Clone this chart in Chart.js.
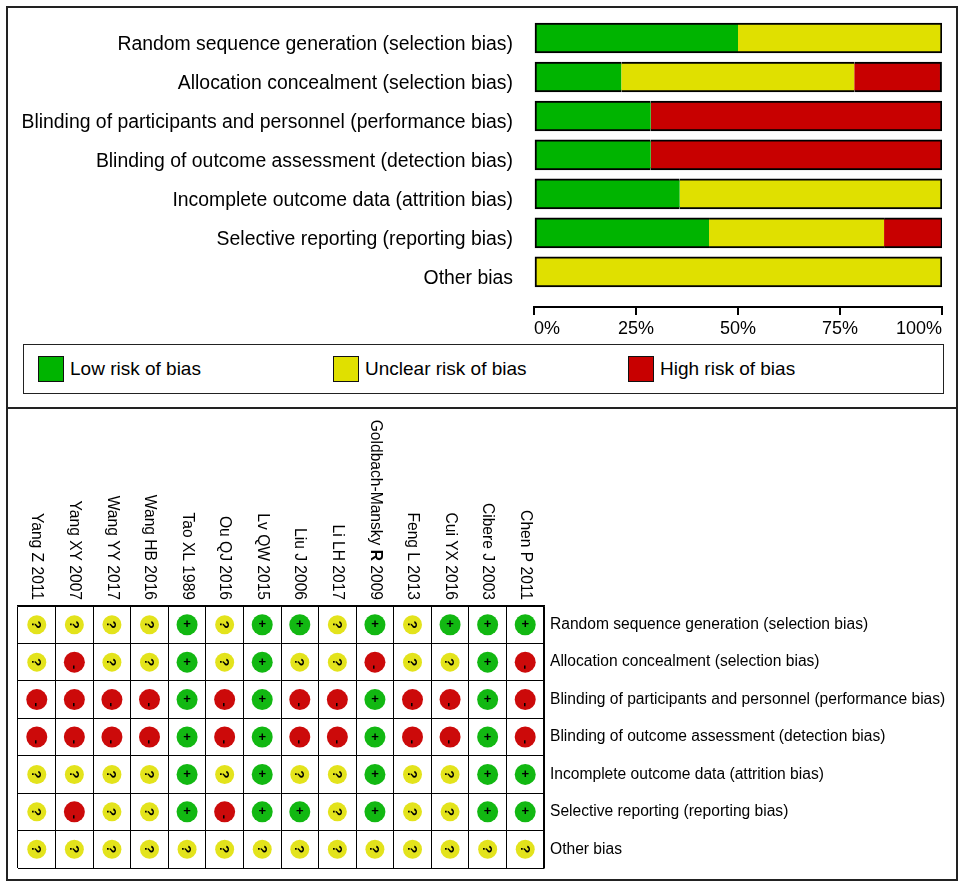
<!DOCTYPE html>
<html>
<head>
<meta charset="utf-8">
<script src="https://cdn.jsdelivr.net/npm/chart.js@4.4.1/dist/chart.umd.min.js"></script>
<style>
html,body{margin:0;padding:0;background:#fff;}
body{width:964px;height:887px;position:relative;overflow:hidden;font-family:"Liberation Sans",Arial,sans-serif;}
.frame{position:absolute;border:2px solid #222;box-sizing:border-box;}
#f1{left:6px;top:6px;width:952px;height:403px;}
#f2{left:6px;top:407px;width:952px;height:474px;}
#c1wrap{position:absolute;left:0;top:0;width:964px;height:340px;}
#c2wrap{position:absolute;left:0;top:410px;width:964px;height:470px;}
#legend{position:absolute;left:23px;top:344px;width:921px;height:50px;border:1.5px solid #222;box-sizing:border-box;}
.item{position:absolute;top:0;height:100%;display:flex;align-items:center;font-size:19px;color:#000;white-space:nowrap;}
.sw{width:26px;height:26px;border:1.5px solid #111;box-sizing:border-box;margin-right:6px;}
</style>
</head>
<body>
<div class="frame" id="f1"></div>
<div class="frame" id="f2"></div>
<div id="c1wrap"><canvas id="c1"></canvas></div>
<div id="legend"></div>
<div id="c2wrap"><canvas id="c2"></canvas></div>
<script>
// ---------- data ----------
const domains = [
  'Random sequence generation (selection bias)',
  'Allocation concealment (selection bias)',
  'Blinding of participants and personnel (performance bias)',
  'Blinding of outcome assessment (detection bias)',
  'Incomplete outcome data (attrition bias)',
  'Selective reporting (reporting bias)',
  'Other bias'
];
const seriesNames = ['Low risk of bias', 'Unclear risk of bias', 'High risk of bias'];
const lowRisk     = [50, 21.4, 28.6, 28.6, 35.7, 42.9, 0];
const unclearRisk = [50, 57.1, 0, 0, 64.3, 42.9, 100];
const highRisk    = [0, 21.4, 71.4, 71.4, 0, 14.3, 0];
const percentTicks = [0, 25, 50, 75, 100];

const studies = [
  'Yang Z 2011', 'Yang XY 2007', 'Wang YY 2017', 'Wang HB 2016', 'Tao XL 1989',
  'Ou QJ 2016', 'Lv QW 2015', 'Liu J 2006', 'Li LH 2017', 'Goldbach-Mansky R 2009',
  'Feng L 2013', 'Cui YX 2016', 'Cibere J 2003', 'Chen P 2011'
];
const randomSequence  = ['?','?','?','?','+','?','+','+','?','+','?','+','+','+'];
const allocation      = ['?','-','?','?','+','?','+','?','?','-','?','?','+','-'];
const blindingPeople  = ['-','-','-','-','+','-','+','-','-','+','-','-','+','-'];
const blindingOutcome = ['-','-','-','-','+','-','+','-','-','+','-','-','+','-'];
const incompleteData  = ['?','?','?','?','+','?','+','?','?','+','?','?','+','+'];
const selectiveReport = ['?','-','?','?','+','-','+','+','?','+','?','?','+','+'];
const otherBias       = ['?','?','?','?','?','?','?','?','?','?','?','?','?','?'];
const judgementKeys = ['+', '?', '-'];
const boldStudy = 'Goldbach-Mansky R 2009';
const boldPart = 'R';

// ---------- styles ----------
const FONT = '"Liberation Sans", Arial, sans-serif';
Chart.defaults.font.family = FONT;
Chart.defaults.color = '#000';
const barColors = ['#00b400', '#e0e000', '#c80000'];
const dotColors = ['#12b812', '#e3e31c', '#cc0a0a'];

// ---------- top: risk of bias graph ----------
const seriesData = [lowRisk, unclearRisk, highRisk];
function segmentBorder(ctx) {
  const i = ctx.dataIndex, d = ctx.datasetIndex;
  const vals = seriesData.map(s => s[i]);
  const before = vals.slice(0, d).some(v => v > 0);
  const after = vals.slice(d + 1).some(v => v > 0);
  return {top: 2, bottom: 2, left: before ? 0 : 2, right: after ? 0 : 2};
}
const chart1 = new Chart(document.getElementById('c1'), {
  type: 'bar',
  data: {
    datasets: seriesNames.map((name, k) => ({
      label: name,
      data: seriesData[k].map((v, i) => ({x: v, y: i})),
      backgroundColor: barColors[k],
      borderColor: '#000',
      borderWidth: segmentBorder,
      borderSkipped: false,
      barThickness: 30
    }))
  },
  options: {
    indexAxis: 'y',
    responsive: true,
    maintainAspectRatio: false,
    animation: false,
    layout: {padding: {top: 18.5, right: 22, bottom: 0, left: 0}},
    plugins: {legend: {display: false}, tooltip: {enabled: false}},
    scales: {
      x: {
        type: 'linear', stacked: true, min: 0, max: 100,
        afterBuildTicks: s => { s.ticks = percentTicks.map(v => ({value: v})); },
        afterFit: s => { s.height = 33; s.paddingLeft = 0; s.paddingRight = 0; },
        grid: {display: true, drawOnChartArea: false, drawTicks: true, tickLength: 8, color: '#000', lineWidth: 2},
        border: {display: true, color: '#000', width: 2},
        ticks: {align: 'inner', padding: 3, color: '#000', font: {size: 18}, callback: v => v + '%'}
      },
      y: {
        type: 'linear', stacked: true, reverse: true, offset: false, min: -0.5, max: 6.9,
        afterBuildTicks: s => { s.ticks = domains.map((d, i) => ({value: i})); },
        afterFit: s => { s.width = 534; s.paddingTop = 0; s.paddingBottom = 0; },
        grid: {display: false, drawTicks: false},
        border: {display: false},
        ticks: {padding: 21, labelOffset: 7, color: '#000', font: {size: 19.4}, callback: v => domains[v]}
      }
    }
  }
});

// HTML legend built from the chart's datasets
const legendEl = document.getElementById('legend');
chart1.data.datasets.forEach((ds, k) => {
  const item = document.createElement('div');
  item.className = 'item';
  item.style.left = (14 + k * 295) + 'px';
  const sw = document.createElement('div');
  sw.className = 'sw';
  sw.style.background = ds.backgroundColor;
  const tx = document.createElement('span');
  tx.textContent = ds.label;
  item.appendChild(sw); item.appendChild(tx);
  legendEl.appendChild(item);
});

// ---------- bottom: risk of bias summary ----------
const cellRows = [randomSequence, allocation, blindingPeople, blindingOutcome, incompleteData, selectiveReport, otherBias];

const symbolPlugin = {
  id: 'symbols',
  afterDatasetsDraw(chart) {
    const ctx = chart.ctx;
    chart.data.datasets.forEach((ds, k) => {
      const j = judgementKeys[k];
      chart.getDatasetMeta(k).data.forEach(pt => {
        ctx.save();
        ctx.translate(pt.x, pt.y);
        ctx.fillStyle = '#000';
        ctx.textAlign = 'center';
        ctx.textBaseline = 'middle';
        ctx.font = 'bold 13px ' + FONT;
        if (j === '?') {
          ctx.rotate(Math.PI / 2);
          ctx.fillText('?', 0, 1);
        } else if (j === '-') {
          ctx.rotate(Math.PI / 2);
          ctx.fillText('-', 5, 1);
        } else {
          ctx.fillText('+', 0, 0);
        }
        ctx.restore();
      });
    });
  }
};

const studyLabelPlugin = {
  id: 'studyLabels',
  afterDraw(chart) {
    const s = chart.scales.x, ctx = chart.ctx;
    const y0 = chart.chartArea.top - 6;
    const normal = '15.6px ' + FONT, bold = 'bold 15.6px ' + FONT;
    studies.forEach((name, i) => {
      const x = s.getPixelForTick(i);
      let parts = [{t: name, f: normal}];
      if (name === boldStudy) {
        const idx = name.indexOf(' ' + boldPart + ' ');
        parts = [
          {t: name.slice(0, idx + 1), f: normal},
          {t: boldPart, f: bold},
          {t: name.slice(idx + 1 + boldPart.length), f: normal}
        ];
      }
      ctx.save();
      ctx.translate(x, y0);
      ctx.rotate(Math.PI / 2);
      ctx.textBaseline = 'middle';
      ctx.textAlign = 'left';
      ctx.fillStyle = '#000';
      let total = 0;
      parts.forEach(p => { ctx.font = p.f; p.w = ctx.measureText(p.t).width; total += p.w; });
      let cx = -total;
      parts.forEach(p => { ctx.font = p.f; ctx.fillText(p.t, cx, 0); cx += p.w; });
      ctx.restore();
    });
  }
};

new Chart(document.getElementById('c2'), {
  type: 'scatter',
  data: {
    datasets: judgementKeys.map((j, k) => ({
      label: seriesNames[k],
      data: cellRows.flatMap((row, r) => row.map((v, s) => v === j ? {x: studies[s], y: domains[r]} : null).filter(Boolean)),
      backgroundColor: dotColors[k],
      borderColor: dotColors[k],
      borderWidth: 0,
      pointRadius: j === '?' ? 9.5 : 10.5,
      pointHoverRadius: j === '?' ? 9.5 : 10.5
    }))
  },
  options: {
    responsive: true,
    maintainAspectRatio: false,
    animation: false,
    layout: {padding: {top: 0, left: 18, right: 0, bottom: 12}},
    plugins: {legend: {display: false}, tooltip: {enabled: false}},
    scales: {
      x: {
        type: 'category', labels: studies, position: 'top', offset: true,
        grid: {offset: true, color: '#000', lineWidth: 1, drawTicks: false},
        border: {display: true, color: '#000', width: 1.5},
        ticks: {display: false},
        afterFit: s => { s.height = 196; }
      },
      y: {
        type: 'category', labels: domains, position: 'right', offset: true,
        grid: {offset: true, color: '#000', lineWidth: 1, drawTicks: false},
        border: {display: true, color: '#000', width: 1.5},
        ticks: {padding: 6, color: '#000', font: {size: 15.6}},
        afterFit: s => { s.width = 420; s.paddingTop = 0; s.paddingBottom = 0; }
      }
    }
  },
  plugins: [symbolPlugin, studyLabelPlugin]
});
</script>
</body>
</html>
